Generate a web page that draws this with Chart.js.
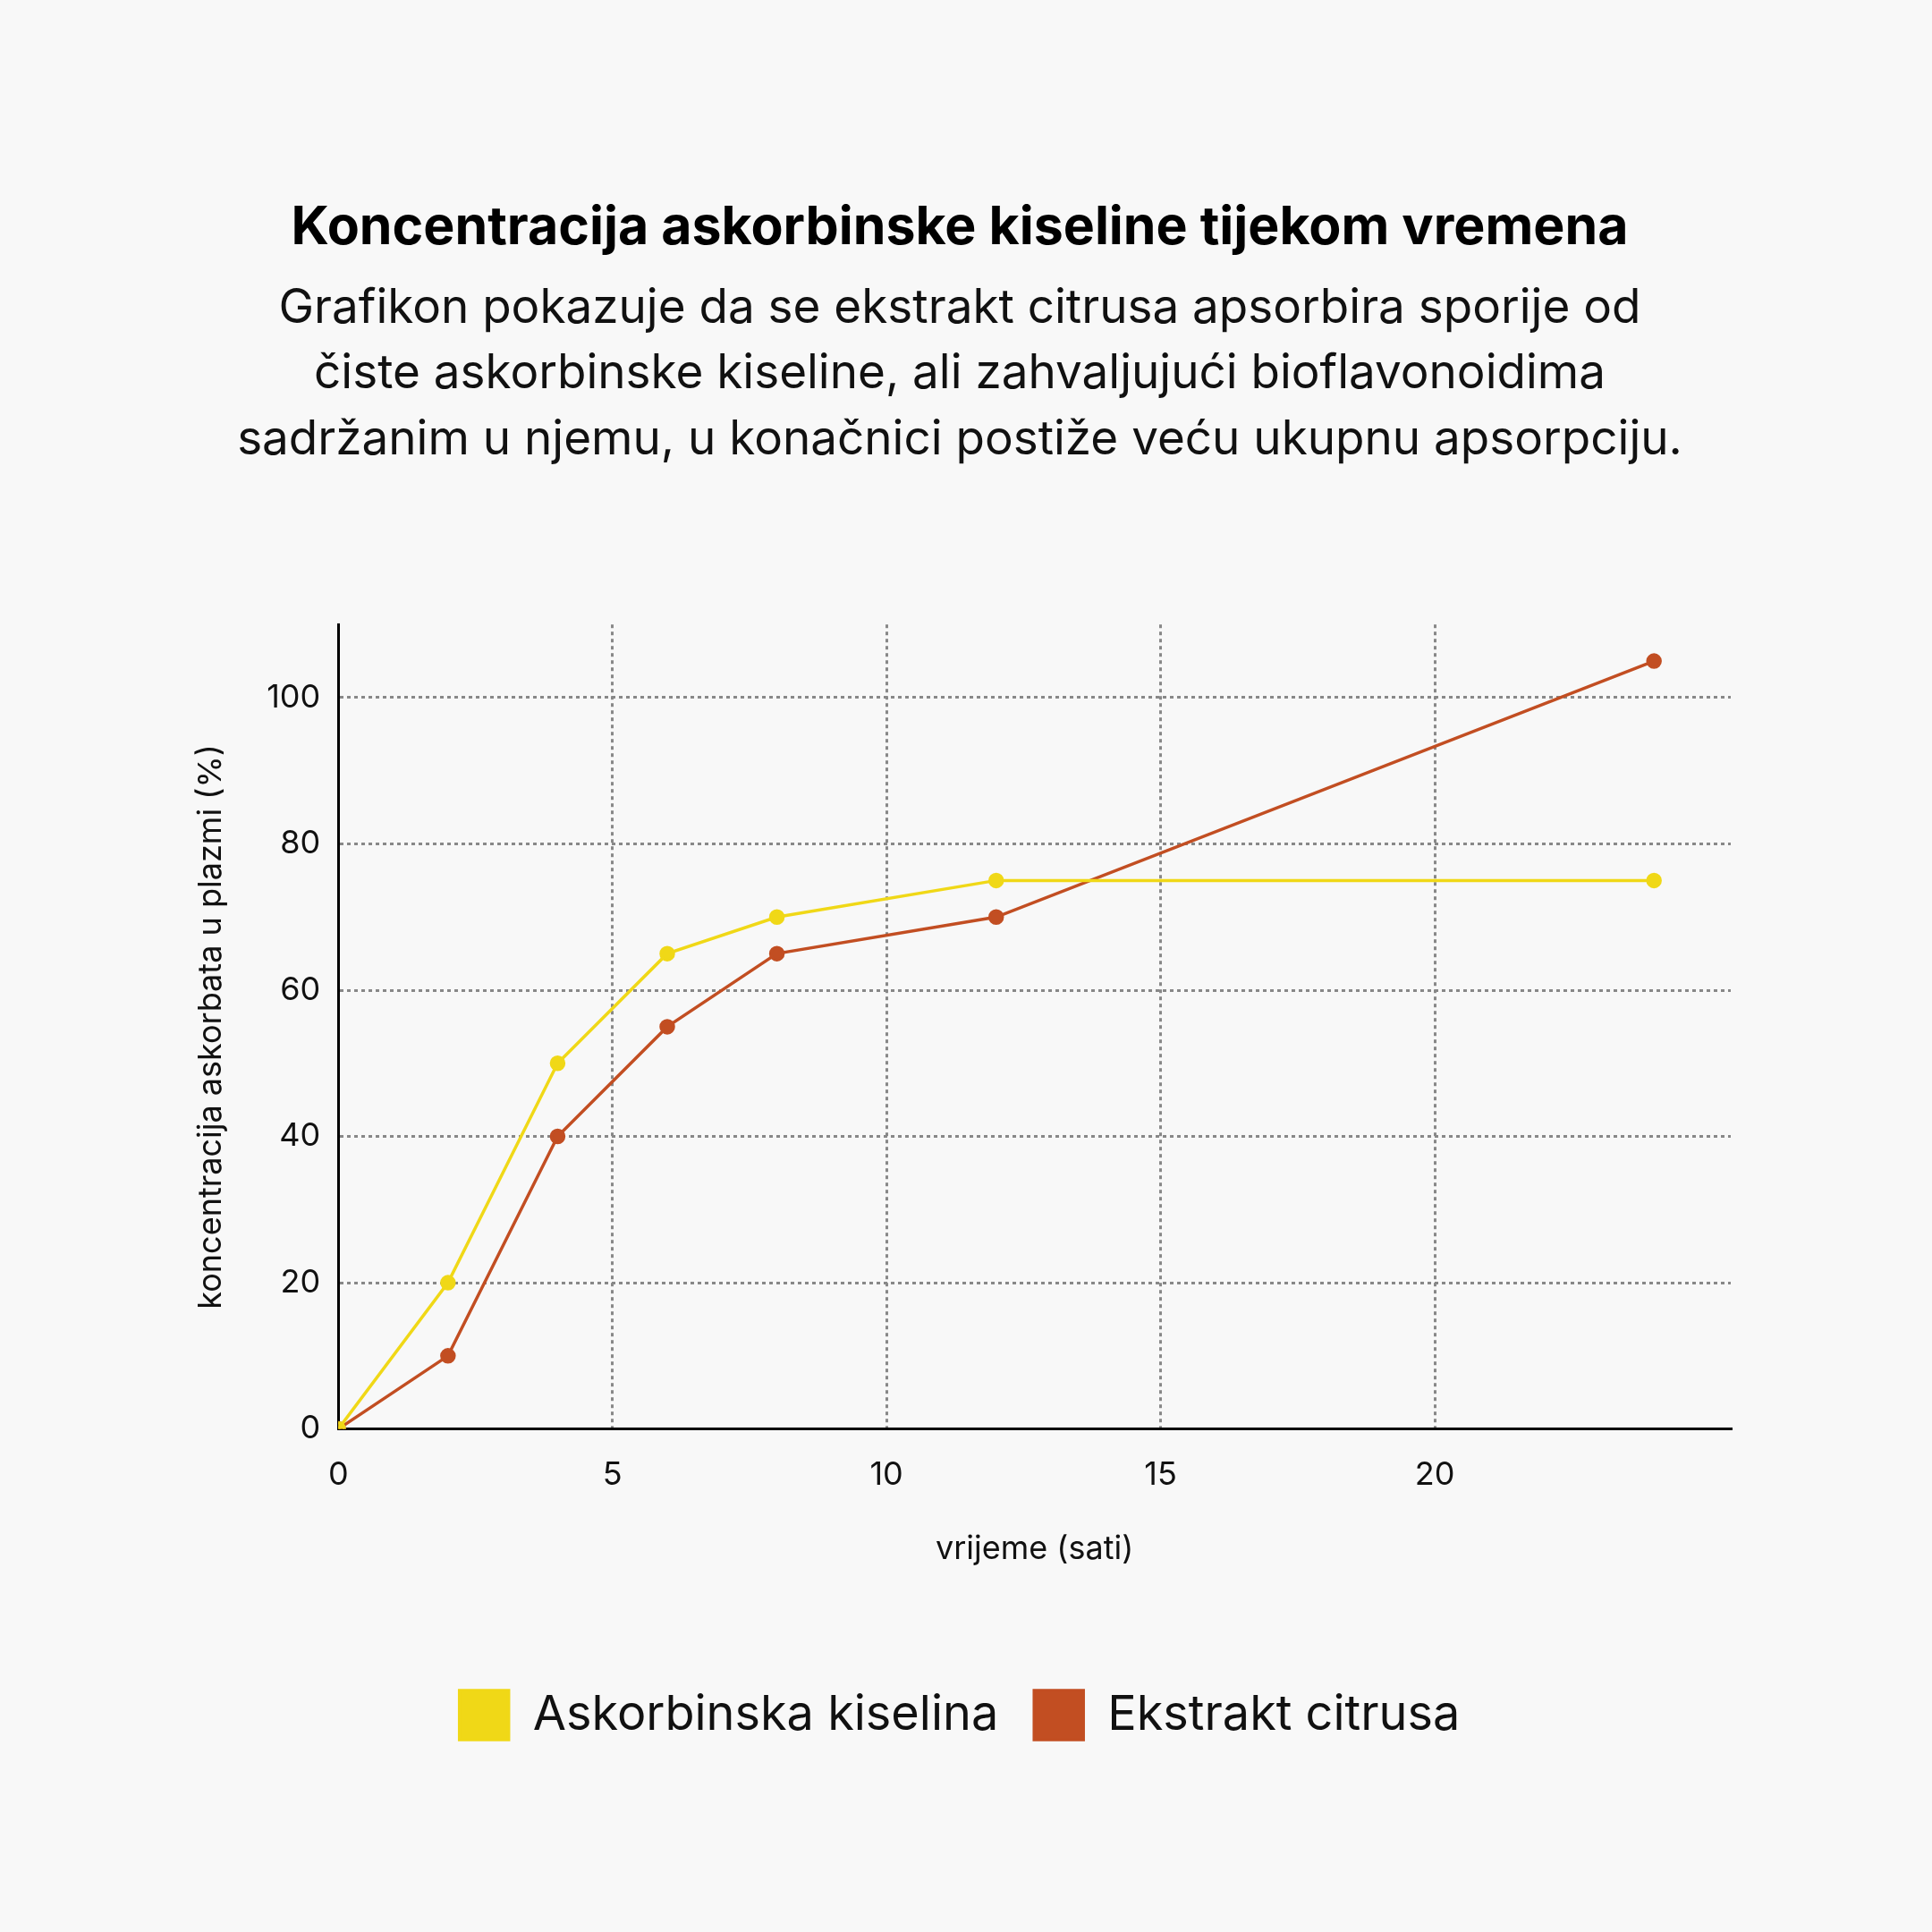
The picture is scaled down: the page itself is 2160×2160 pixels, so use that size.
<!DOCTYPE html>
<html><head><meta charset="utf-8">
<script src="https://cdn.jsdelivr.net/npm/chart.js@4/dist/chart.umd.min.js"></script>
<style>html,body{margin:0;padding:0;background:#f8f8f8;}#w{width:2160px;height:2160px;}</style>
</head><body><div id="w"><canvas id="c" width="2160" height="2160"></canvas></div>
<script>
const hours = [0, 2, 4, 6, 8, 12, 24];
const askorbinska = [0, 20, 50, 65, 70, 75, 75];
const ekstrakt = [0, 10, 40, 55, 65, 70, 105];
const seriesNames = ['Askorbinska kiselina', 'Ekstrakt citrusa'];
const colors = ['#f0d817', '#c24e22'];
const titleText = 'Koncentracija askorbinske kiseline tijekom vremena';
const subtitleLines = ['Grafikon pokazuje da se ekstrakt citrusa apsorbira sporije od',
  'čiste askorbinske kiseline, ali zahvaljujući bioflavonoidima',
  'sadržanim u njemu, u konačnici postiže veću ukupnu apsorpciju.'];
Chart.defaults.font.family = 'Inter';
Chart.defaults.color = '#111';
const bg = {id:'bg', beforeDraw(c){const x=c.ctx;x.save();x.fillStyle='#f8f8f8';x.fillRect(0,0,c.width,c.height);x.restore();}};
const mk = (d)=>hours.map((h,i)=>({x:h,y:d[i]}));
const keepStep = (s)=>(sc)=>{sc.ticks = sc.ticks.filter(t=>t.value % s === 0);};
new Chart(document.getElementById('c'), {
  type:'line',
  data:{datasets:[
    {label:seriesNames[0], data:mk(askorbinska), borderColor:colors[0], backgroundColor:colors[0], borderWidth:3.5, pointRadius:7, tension:0},
    {label:seriesNames[1], data:mk(ekstrakt), borderColor:colors[1], backgroundColor:colors[1], borderWidth:3.5, pointRadius:7, tension:0}
  ]},
  plugins:[bg],
  options:{
    responsive:false, animation:false, devicePixelRatio:1,
    layout:{padding:{left:211, right:225, top:220, bottom:205}},
    plugins:{
      title:{display:true, text:titleText, font:{size:59, weight:'bold'}, color:'#000', padding:{top:0,bottom:18}},
      subtitle:{display:true, text:subtitleLines, font:{size:53, lineHeight:1.38}, color:'#111', padding:{bottom:170}},
      legend:{position:'bottom', labels:{boxWidth:55, boxHeight:55, padding:40, font:{size:54}, color:'#111'}},
      tooltip:{enabled:false}
    },
    scales:{
      x:{type:'linear', min:0, max:25.4, afterBuildTicks:keepStep(5),
        title:{display:true, text:'vrijeme (sati)', font:{size:36}, padding:{top:10, bottom:96}},
        ticks:{stepSize:5, font:{size:36}, padding:30, color:'#111'},
        grid:{color:(c)=>c.tick.value===0?'rgba(0,0,0,0)':'#888', lineWidth:3, drawTicks:false},
        border:{color:'#000', width:3, dash:[4,4]}},
      y:{min:0, max:110, afterBuildTicks:keepStep(20),
        title:{display:true, text:'koncentracija askorbata u plazmi (%)', font:{size:36}, padding:{bottom:20}},
        ticks:{stepSize:20, font:{size:36}, padding:20, color:'#111'},
        grid:{color:(c)=>c.tick.value===0?'rgba(0,0,0,0)':'#888', lineWidth:3, drawTicks:false},
        border:{color:'#000', width:3, dash:[4,4]}}
    }
  }
});
</script>
</body></html>
